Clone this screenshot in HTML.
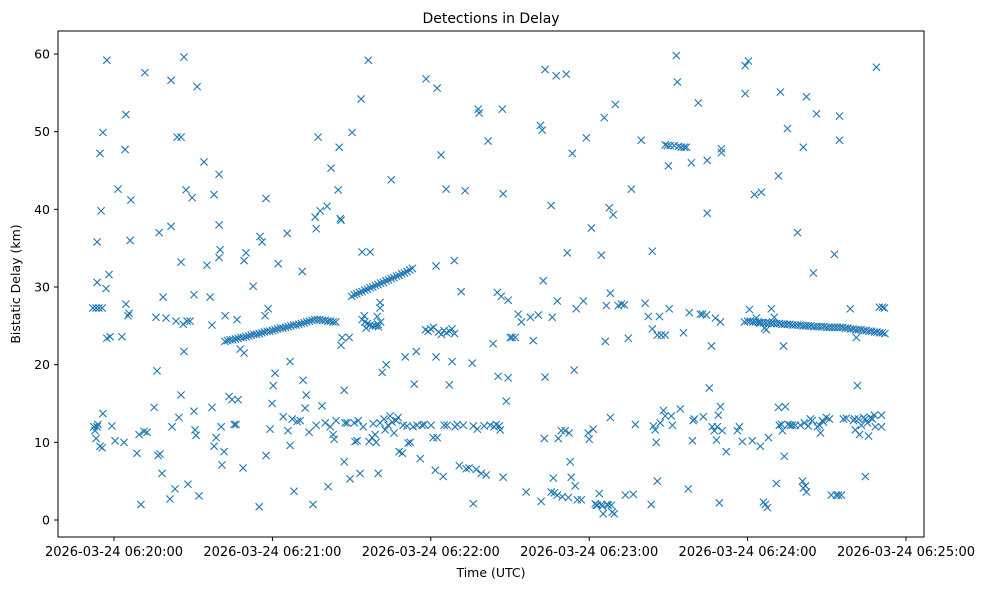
<!DOCTYPE html>
<html><head><meta charset="utf-8">
<style>
body{margin:0;background:#fff;}
svg{display:block;font-family:"DejaVu Sans","Liberation Sans",sans-serif;}
</style></head>
<body>
<svg id="chart" width="988" height="590" viewBox="0 0 988 590">
<rect width="988" height="590" fill="#fff"/>
<text x="491" y="23" text-anchor="middle" font-size="14" fill="#000">Detections in Delay</text>
<text x="491" y="577" text-anchor="middle" font-size="12.5" fill="#000">Time (UTC)</text>
<text x="20" y="284" text-anchor="middle" font-size="12.5" fill="#000" transform="rotate(-90 20 284)">Bistatic Delay (km)</text>
<g id="ticks"></g>
<g id="marks"></g>
<rect x="58" y="31" width="866" height="506" fill="none" stroke="#000" stroke-width="1"/>
</svg>
<script>
const noiseTimes = [-8.0,-6.8,-5.7,-4.5,-6.4,-7.2,-6.1,-7.6,-5.3,-4.5,
-6.4,-6.4,-5.3,-4.9,-4.2,-2.7,-2.7,-1.5,-1.9,-4.2,
-3.0,-6.8,-0.8,1.5,0.4,
3.0,3.8,4.2,4.5,4.5,5.7,6.1,6.4,5.3,8.7,
9.5,10.2,11.4,11.7,12.5,15.2,15.9,16.3,16.7,17.4,
17.1,18.6,18.2,19.7,21.6,21.6,22.0,21.2,23.1,23.5,
23.9,24.6,25.4,25.4,25.4,26.2,26.5,26.5,27.7,27.3,
28.0,28.8,29.6,30.3,30.7,30.3,31.1,31.5,32.2,34.1,
35.2,36.4,37.1,37.1,37.9,37.9,38.7,39.8,39.8,39.8,
40.2,40.6,40.9,41.7,42.1,43.6,44.7,45.5,46.2,46.6,
47.0,47.8,48.9,49.3,49.3,50.0,52.7,55.0,55.3,56.1,
57.2,57.6,57.6,58.4,59.1,59.9,60.3,61.0,62.2,64.1,
65.6,65.9,66.7,66.7,67.5,68.2,69.4,70.5,71.3,71.6,
72.8,72.4,73.9,75.4,76.6,77.3,76.2,76.6,78.1,78.8,
80.0,80.7,81.1,81.9,82.2,83.0,83.4,84.1,84.9,85.3,
85.7,86.0,86.0,86.4,87.2,87.2,87.5,88.3,89.1,89.4,
90.2,91.0,91.3,92.1,92.5,93.2,93.6,94.0,94.4,94.8,
95.5,96.3,96.6,97.0,97.8,98.2,98.9,99.3,99.7,100.1,
100.1,100.8,100.8,100.8,101.6,102.3,102.7,103.1,103.8,104.6,
105.0,105.4,106.1,106.9,107.6,108.0,109.2,109.5,110.3,111.0,
111.4,112.2,113.3,113.7,114.5,114.8,116.0,116.7,117.5,118.2,
120.1,120.9,121.7,122.0,122.0,122.4,122.4,123.9,124.7,125.1,
125.8,126.2,127.0,128.1,128.9,129.2,130.0,130.8,131.5,132.3,
133.0,133.4,134.5,135.7,136.1,136.1,137.2,137.6,138.0,138.3,
139.1,140.2,141.0,141.7,142.5,143.6,144.0,144.8,145.2,145.5,
145.9,146.3,146.7,147.1,147.4,147.4,148.6,149.3,149.3,150.1,
150.8,152.0,153.1,154.3,156.1,157.7,158.8,160.7,161.5,161.8,
162.2,162.6,163.0,163.3,163.3,165.6,165.6,166.0,166.4,166.8,
167.5,167.9,167.9,168.3,169.4,169.8,170.9,171.3,171.7,172.1,
172.4,172.8,173.2,173.6,174.3,174.7,175.1,175.5,177.0,177.8,
178.9,179.6,180.0,180.8,181.5,182.3,182.7,183.1,183.8,184.6,
184.6,185.0,185.3,185.7,186.1,186.5,186.8,187.2,187.6,188.0,
188.0,188.4,188.7,189.1,189.5,189.9,191.0,192.2,193.3,193.7,
194.8,196.0,196.7,197.5,199.7,201.2,202.4,203.5,203.9,203.9,
204.3,205.0,205.4,205.8,205.8,206.6,206.9,207.3,208.1,208.8,
208.8,208.8,209.6,210.0,210.3,210.7,211.1,211.5,212.2,213.0,
213.4,213.8,214.5,214.9,215.7,216.0,216.8,217.5,217.9,218.7,
219.1,219.4,219.8,221.3,222.1,222.9,223.2,224.4,224.7,224.7,
225.5,226.3,226.6,227.4,227.8,228.2,228.5,228.9,229.3,229.7,
229.7,230.1,230.1,230.4,231.9,236.1,236.9,238.0,238.8,239.1,
239.1,240.3,240.7,241.8,242.6,243.3,244.5,244.8,245.2,246.0,
246.4,246.7,247.1,247.5,247.9,249.0,249.4,250.1,250.9,251.7,
251.7,252.0,252.4,252.8,253.2,253.6,253.9,254.3,255.1,255.4,
256.2,257.0,258.1,258.9,260.0,260.8,261.1,261.1,261.5,261.9,
262.3,262.3,263.0,263.8,264.5,264.9,266.1,266.4,267.2,267.6,
268.3,268.7,269.8,271.0,271.7,272.9,273.6,274.4,274.8,274.8,
275.5,276.3,277.4,278.9,280.1,280.5,280.8,281.2,281.6,282.0,
282.4,283.1,283.9,284.6,284.6,285.4,285.8,286.5,287.3,288.0,
288.4,288.8,289.9,290.7,290.7,291.1,291.8];
const noiseDelays = [27.3,27.3,27.3,27.3,12,11.5,12.3,12,9.5,9.3,
35.8,30.6,47.2,39.8,49.9,59.2,23.4,23.6,31.6,13.7,
29.8,10.5,12.1,42.6,10.2,
23.6,10,47.7,52.2,27.8,26.6,36,41.2,26.3,8.6,
11,2,11.4,57.6,11.3,14.5,26.1,19.2,8.3,8.5,
37,28.7,6,26,37.8,56.6,12,2.7,4,25.6,
49.3,13.2,16.1,33.2,49.3,25.2,21.7,59.6,25.6,42.5,
4.6,25.6,41.5,29,11.6,14,10.9,55.8,3.1,46.1,
32.8,28.7,25.1,14.5,41.9,9.5,10.6,33.8,44.5,38,
34.8,12,7.1,8.8,26.3,15.9,15.5,12.3,12.3,25.8,
15.5,22,6.7,33.4,21.5,34.4,30.1,1.7,36.5,35.8,
26.3,41.4,8.3,27.2,11.7,15,17.3,18.9,33,13.3,
36.9,11.5,20.4,9.6,13,3.7,12.7,12.8,32,18,
16.1,14.4,11.3,2,12.2,49.3,39,37.5,39.8,14.7,
12.5,40.4,4.3,12,45.3,11,10.4,12.8,42.5,48,
38.8,38.6,22.5,23.5,16.7,7.5,12.5,12.5,23.5,5.3,
49.9,12.5,10.1,10.2,12.8,6,54.2,34.5,12,26.3,
24.7,59.2,10.1,34.5,10.6,12.4,11,10,26.2,24.9,
6,12.5,28,27.3,19,13,11.6,20,12.2,13.4,
43.8,12.6,11.2,12.8,13.2,8.8,8.6,12.2,21,12.1,
9.9,10,12,17.5,21.7,12.2,7.9,12.2,12.3,56.8,
12.2,10.6,6.4,21,32.7,10.6,55.6,47,5.6,12.2,
42.6,12.2,17.4,20.4,33.4,12,12.3,7,29.4,12.2,
42.4,6.6,6.7,20.2,2.1,12.1,6.5,11.7,52.9,52.4,
6,12.1,5.8,48.8,12.2,22.7,12,12.3,29.3,18.5,
12.1,11.6,28.8,52.9,5.5,42,15.3,18.3,28.3,23.5,
23.5,23.5,26.5,25.5,3.6,26.1,23.1,26.4,50.8,2.4,
50.2,30.8,10.5,18.4,58,3.6,40.5,26.1,5.4,3.5,
57.2,3.2,28.2,10.5,11.5,3,11.5,57.4,34.4,2.9,
11.2,7.5,5.5,47.2,19.3,4.4,27.2,2.6,2.6,28.2,
49.2,11.2,10.4,37.6,11.7,2.1,1.9,1.9,3.4,34.1,
2,1.8,0.8,51.8,23,27.6,2,1.9,40.2,29.2,
13.2,1.9,1,39.3,0.8,53.5,27.6,27.8,27.7,3.2,
23.4,42.6,3.3,12.3,48.9,27.9,26.2,2,34.6,24.6,
12.1,11.6,10,5,23.8,26.2,12.5,23.8,14.1,23.8,
48.3,13.4,48.2,45.6,27.2,48.2,13.4,12.2,48.2,59.8,
56.4,48.1,14.3,48,24.1,48,48,4,26.7,46,
10.2,12.8,13,53.7,26.5,26.5,13.3,26.4,39.5,46.3,
17,22.4,12,11.5,26,10.3,12,13.5,2.2,14.6,
25.5,47.3,47.8,11.5,8.8,11.5,12,10.1,25.5,58.5,
54.9,59.1,27.1,10.2,41.9,26,25.4,9.5,42.2,2.3,
24.7,2,24.5,1.6,10.6,27.2,25.5,26.1,4.7,44.3,
14.5,12.2,55.1,12.3,11.5,22.4,8.2,14.6,50.4,12.3,
12.2,12.2,12.2,37,12.2,5,48,4.1,12.5,4.4,
3.6,54.5,12.1,13,12.8,31.8,52.3,12,12.2,11.2,
12.8,12.6,13.2,13,3.2,34.2,3.2,3.2,52,48.9,
3.2,13,13.1,27.2,12.8,13,11.6,23.5,17.3,13,
11,12.2,13.2,5.6,13,12.5,10.8,13.2,13,13.5,
12,58.3,27.4,13.5,12,27.4,27.3];
const trackATimes = [42,43,44,45,46,47,48,49,50,51,52,53,54,55,56,57,58,59,60,61,62,63,64,65,66,67,68,69,70,71,72,73,74,75,76,77,78,79,80,81,82,83,84];
const trackADelays = [23.0,23.1,23.2,23.2,23.3,23.4,23.5,23.5,23.6,23.7,23.8,23.9,23.9,24.0,24.1,24.2,24.3,24.3,24.4,24.5,24.6,24.7,24.7,24.8,24.9,25.0,25.1,25.1,25.2,25.3,25.4,25.5,25.6,25.7,25.8,25.8,25.8,25.7,25.7,25.6,25.6,25.5,25.5];
const trackBTimes = [90,91,92,93,94,95,96,97,98,99,100,101,102,103,104,105,106,107,108,109,110,111,112,113,94,95,96,97,98,99,100,101];
const trackBDelays = [28.8,29.0,29.1,29.3,29.4,29.6,29.7,29.9,30.0,30.2,30.3,30.5,30.6,30.8,30.9,31.1,31.2,31.4,31.5,31.7,31.8,32.0,32.2,32.4,25.8,25.5,25.3,25.1,25.0,25.0,25.2,25.5];
const trackCTimes = [118,119,120,121,123,124,125,126,127,128,129];
const trackCDelays = [24.5,24.3,24.6,24.8,24.2,23.9,24.4,24.1,24.3,24.6,24.0];
const trackDTimes = [240,241,242,243,244,245,246,247,248,249,250,251,252,253,254,255,256,257,258,259,260,261,262,263,264,265,266,267,268,269,270,271,272,273,274];
const trackDDelays = [25.6,25.6,25.5,25.5,25.5,25.4,25.4,25.4,25.4,25.3,25.3,25.3,25.3,25.2,25.2,25.2,25.2,25.1,25.1,25.1,25.1,25.0,25.0,25.0,25.0,24.9,24.9,24.9,24.9,24.9,24.8,24.8,24.8,24.8,24.8];
const trackETimes = [275,276,277,278,279,280,281,282,283,284,285,286,287,288,289,290,291,292];
const trackEDelays = [24.8,24.8,24.7,24.7,24.6,24.6,24.5,24.5,24.5,24.4,24.4,24.3,24.3,24.2,24.2,24.1,24.1,24.0];
const yTickValues = [0,10,20,30,40,50,60];
const xTickSeconds = [0,60,120,180,240,300];
const xTickLabels = ["2026-03-24 06:20:00","2026-03-24 06:21:00","2026-03-24 06:22:00","2026-03-24 06:23:00","2026-03-24 06:24:00","2026-03-24 06:25:00"];

const NS = "http://www.w3.org/2000/svg";
function xScale(t){ return 114 + t * (906 - 114) / 300; }
function yScale(v){ return 520 - v * (520 - 54) / 60; }
const ticks = document.getElementById('ticks');
const marks = document.getElementById('marks');
function mk(tag, attrs, parent){
  const e = document.createElementNS(NS, tag);
  for (const k in attrs) e.setAttribute(k, attrs[k]);
  parent.appendChild(e);
  return e;
}
yTickValues.forEach(v => {
  const y = yScale(v);
  const l = mk('line', {x1:54, x2:58, y1:y, y2:y, stroke:'#000'}, ticks);
  
  
  const t = mk('text', {x:50, y:y + 4.5, 'text-anchor':'end', 'font-size':12.5}, ticks);
  t.textContent = v;
  
  
});
xTickSeconds.forEach((s, i) => {
  const x = xScale(s);
  const l = mk('line', {x1:x, x2:x, y1:537, y2:541, stroke:'#000'}, ticks);
  
  
  const t = mk('text', {x:x, y:556, 'text-anchor':'middle', 'font-size':13}, ticks);
  t.textContent = xTickLabels[i];
  
  
});
function plot(ts, ds){
  for (let i = 0; i < ts.length; i++){
    const x = xScale(ts[i]), y = yScale(ds[i]), r = 3.6;
    const p = mk('path', {d:`M${x-r},${y-r}L${x+r},${y+r}M${x-r},${y+r}L${x+r},${y-r}`, stroke:'#1f77b4', 'stroke-width':1.1, fill:'none'}, marks);
    
    
  }
}
plot(noiseTimes, noiseDelays);
plot(trackATimes, trackADelays);
plot(trackBTimes, trackBDelays);
plot(trackCTimes, trackCDelays);
plot(trackDTimes, trackDDelays);
plot(trackETimes, trackEDelays);
</script>
</body></html>
